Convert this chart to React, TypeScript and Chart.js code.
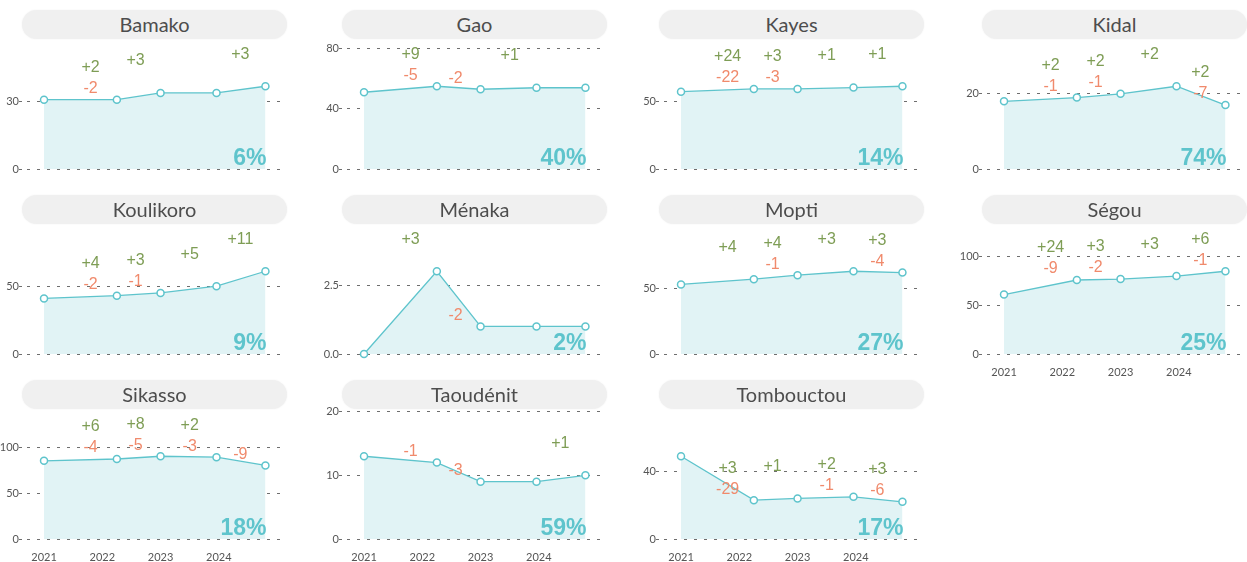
import React, { useEffect, useRef } from 'react';
import { Chart, registerables } from 'chart.js';

Chart.register(...registerables);

// Survey dates (decimal years) shared by every region
const surveyYears = [2021.0, 2022.25, 2023.0, 2023.96, 2024.8];
// Positions of the change labels between surveys
const changeYears = [2021.8, 2022.57, 2023.5, 2024.37];
const xTickYears = [2021, 2022, 2023, 2024];

const regionNames = [
  'Bamako', 'Gao', 'Kayes', 'Kidal',
  'Koulikoro', 'Ménaka', 'Mopti', 'Ségou',
  'Sikasso', 'Taoudénit', 'Tombouctou',
];

const seriesValues: number[][] = [
  [31, 31, 34, 34, 37],
  [51, 55, 53, 54, 54],
  [57, 59, 59, 60, 61],
  [18, 19, 20, 22, 17],
  [41, 43, 45, 50, 61],
  [0, 3, 1, 1, 1],
  [53, 57, 60, 63, 62],
  [61, 76, 77, 80, 85],
  [85, 87, 90, 89, 80],
  [13, 12, 9, 9, 10],
  [49, 23, 24, 25, 22],
];

const gains: (number | null)[][] = [
  [2, 3, null, 3],
  [9, null, 1, null],
  [24, 3, 1, 1],
  [2, 2, 2, 2],
  [4, 3, 5, 11],
  [3, null, null, null],
  [4, 4, 3, 3],
  [24, 3, 3, 6],
  [6, 8, 2, null],
  [null, null, null, 1],
  [3, 1, 2, 3],
];

const losses: (number | null)[][] = [
  [2, null, null, null],
  [5, 2, null, null],
  [22, 3, null, null],
  [1, 1, null, 7],
  [2, 1, null, null],
  [null, 2, null, null],
  [null, 1, null, 4],
  [9, 2, null, 1],
  [4, 5, 3, 9],
  [1, 3, null, null],
  [29, null, 1, 6],
];

const shares = [6, 40, 14, 74, 9, 2, 27, 25, 18, 59, 17];

const yTickLabels: string[][] = [
  ['0', '30'],
  ['0', '40', '80'],
  ['0', '50'],
  ['0', '20'],
  ['0', '50'],
  ['0.0', '2.5'],
  ['0', '50'],
  ['0', '50', '100'],
  ['0', '50', '100'],
  ['0', '10', '20'],
  ['0', '40'],
];

const TEAL = '#5ec4cc';
const FILL = '#e1f3f5';
const GREEN = '#7e9d55';
const ORANGE = '#f08a6c';
const GRID = '#6e6e6e';
const TEXT = '#555555';

const colLefts = [0, 320, 637, 960];
const rowTops = [0, 185, 370];
const X_MIN = 2020.708;
const X_MAX = 2025.17;

function Panel({ idx }: { idx: number }) {
  const ref = useRef<HTMLCanvasElement | null>(null);
  const col = idx % 4;
  const row = Math.floor(idx / 4);
  const left = colLefts[col];
  const top = rowTops[row];
  const showX = idx >= 7;

  useEffect(() => {
    if (!ref.current) return;
    const vals = seriesValues[idx];
    const yMax = Math.max(...vals) * 1.6;
    const tickVals = yTickLabels[idx].map(Number);

    const labelsPlugin = {
      id: 'changeLabels',
      afterDatasetsDraw(chart: any) {
        const { ctx, chartArea } = chart;
        const xs = chart.scales.x;
        const ys = chart.scales.y;
        ctx.save();
        ctx.font = '16px "Liberation Sans", Arial, sans-serif';
        ctx.textAlign = 'center';
        ctx.textBaseline = 'middle';
        for (let i = 0; i < changeYears.length; i++) {
          const px = xs.getPixelForValue(changeYears[i]);
          const py = ys.getPixelForValue(vals[i + 1]);
          const g = gains[idx][i];
          const l = losses[idx][i];
          if (g != null) {
            ctx.fillStyle = GREEN;
            ctx.fillText('+' + g, px, py - 32);
          }
          if (l != null) {
            ctx.fillStyle = ORANGE;
            ctx.fillText('-' + l, px, py - 11);
          }
        }
        ctx.font = 'bold 23px "Liberation Sans", Arial, sans-serif';
        ctx.textAlign = 'right';
        ctx.textBaseline = 'alphabetic';
        ctx.fillStyle = TEAL;
        const lastX = xs.getPixelForValue(surveyYears[surveyYears.length - 1]);
        ctx.fillText(shares[idx] + '%', lastX + 1, chartArea.bottom - 4.5);
        ctx.restore();
      },
    };

    const chart = new Chart(ref.current, {
      type: 'line',
      data: {
        datasets: [
          {
            data: surveyYears.map((x, i) => ({ x, y: vals[i] })),
            borderColor: TEAL,
            borderWidth: 1.3,
            backgroundColor: FILL,
            fill: 'origin',
            tension: 0,
            clip: false,
            pointRadius: 3.5,
            pointBackgroundColor: '#ffffff',
            pointBorderColor: TEAL,
            pointBorderWidth: 1.5,
          },
        ],
      },
      options: {
        animation: false,
        responsive: false,
        events: [],
        layout: { padding: { top: 6, right: 13, left: 0, bottom: 0 } },
        plugins: { legend: { display: false }, tooltip: { enabled: false } },
        scales: {
          x: {
            type: 'linear',
            min: X_MIN,
            max: X_MAX,
            grid: { display: false, drawTicks: false },
            border: { display: false },
            afterBuildTicks: (s: any) => {
              s.ticks = xTickYears.map((v) => ({ value: v }));
            },
            afterFit: (s: any) => {
              s.height = 26;
            },
            ticks: {
              display: showX,
              padding: 12,
              color: TEXT,
              autoSkip: false,
              maxRotation: 0,
              font: { family: 'Lato', size: 11 },
              callback: (v: any) => String(v),
            },
          },
          y: {
            min: 0,
            max: yMax,
            afterBuildTicks: (s: any) => {
              s.ticks = tickVals.map((v) => ({ value: v }));
            },
            afterFit: (s: any) => {
              s.width = 27;
            },
            grid: {
              color: GRID,
              lineWidth: 1,
              drawTicks: true,
              tickLength: 8,
              tickColor: GRID,
              tickBorderDash: [3, 5],
              borderDash: [3, 7],
            } as any,
            border: { display: false, dash: [3, 7] },
            ticks: {
              padding: 0,
              color: TEXT,
              font: { family: 'Lato', size: 11 },
              callback: (_v: any, i: number) => yTickLabels[idx][i],
            },
          },
        },
      } as any,
      plugins: [labelsPlugin],
    });
    return () => chart.destroy();
  }, [idx]);

  return (
    <>
      <div
        style={{
          position: 'absolute',
          left: left + 22,
          top: top + 10,
          width: 265,
          height: 29,
          borderRadius: 15,
          background: '#f0f0f0',
          boxShadow: '0 0 2px rgba(0,0,0,0.06)',
          textAlign: 'center',
          lineHeight: '29px',
          fontFamily: 'Lato, sans-serif',
          fontSize: 20,
          color: '#4d4d4d',
        }}
      >
        {regionNames[idx]}
      </div>
      <canvas
        ref={ref}
        width={300}
        height={165}
        style={{ position: 'absolute', left, top: top + 30, width: 300, height: 165 }}
      />
    </>
  );
}

export default function App() {
  return (
    <div
      style={{
        position: 'absolute',
        left: 0,
        top: 0,
        width: 1247,
        height: 562,
        overflow: 'hidden',
        background: '#ffffff',
      }}
    >
      {regionNames.map((n, i) => (
        <Panel key={n} idx={i} />
      ))}
    </div>
  );
}
